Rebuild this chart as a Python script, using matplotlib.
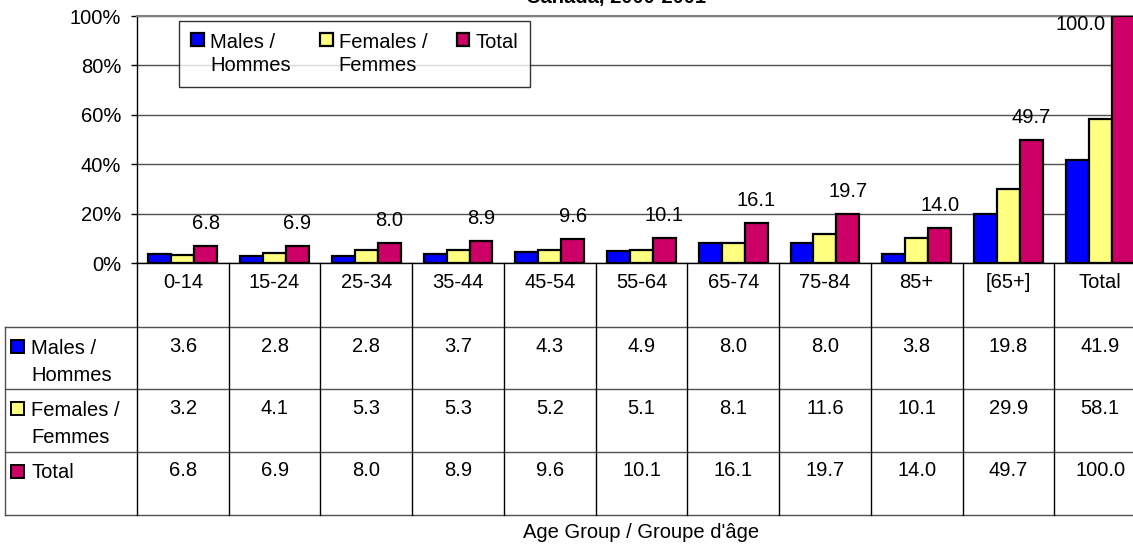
import matplotlib
matplotlib.use('Agg')
import matplotlib.pyplot as plt
import matplotlib.patches as mpatches
from matplotlib.lines import Line2D
from matplotlib.ticker import PercentFormatter
from matplotlib.transforms import blended_transform_factory

categories = ['0-14', '15-24', '25-34', '35-44', '45-54', '55-64', '65-74',
              '75-84', '85+', '[65+]', 'Total']
males = [3.6, 2.8, 2.8, 3.7, 4.3, 4.9, 8.0, 8.0, 3.8, 19.8, 41.9]
females = [3.2, 4.1, 5.3, 5.3, 5.2, 5.1, 8.1, 11.6, 10.1, 29.9, 58.1]
total = [6.8, 6.9, 8.0, 8.9, 9.6, 10.1, 16.1, 19.7, 14.0, 49.7, 100.0]
series_names = ['Males /\nHommes', 'Females /\nFemmes', 'Total']
colors = ['#0000FF', '#FFFF80', '#CC0066']

W, H = 1133, 546


def fx(px):
    return px / W


def fy(px):
    return 1 - px / H


def main():
    plt.rcParams['font.family'] = ['Liberation Sans', 'DejaVu Sans']
    fs = 14.5

    fig = plt.figure(figsize=(W / 100, H / 100), dpi=100)
    ax = fig.add_axes([fx(137), fy(263), fx(1009), 247 / H])

    xs = list(range(len(categories)))
    w = 0.25
    data = [males, females, total]
    for k, vals in enumerate(data):
        ax.bar([x + (k - 1) * w for x in xs], vals, width=w, color=colors[k],
               edgecolor='black', linewidth=1.6, label=series_names[k], zorder=3)

    # labels on the total bars
    for x, v in zip(xs, total):
        if v >= 95:
            ax.annotate(f'{v:.1f}', (x + w / 2, v), xytext=(-4, -6),
                        textcoords='offset points', ha='right', va='center',
                        fontsize=fs, annotation_clip=False)
        else:
            ax.annotate(f'{v:.1f}', (x + w, v), xytext=(0, 16.5),
                        textcoords='offset points', ha='center', va='center',
                        fontsize=fs)

    ax.set_xlim(-0.5, len(categories) - 0.5)
    ax.set_ylim(0, 100)
    ax.set_yticks([0, 20, 40, 60, 80, 100])
    ax.yaxis.set_major_formatter(PercentFormatter(xmax=100, decimals=0))
    ax.set_xticks([])
    ax.tick_params(axis='y', labelsize=fs, length=4.3, width=1, pad=7)
    ax.yaxis.grid(True, color='#505050', linewidth=1, zorder=0)
    ax.spines['right'].set_visible(False)
    ax.spines['top'].set_color('#808080')
    ax.spines['top'].set_linewidth(1.5)
    for s in ['left', 'bottom']:
        ax.spines[s].set_color('black')
        ax.spines[s].set_linewidth(1)

    leg = ax.legend(loc='upper left', bbox_to_anchor=(fx(179), fy(21)),
                    bbox_transform=fig.transFigure, ncol=3, fontsize=fs,
                    frameon=True, fancybox=False, borderpad=0.6,
                    handlelength=0.64, handleheight=0.64, handletextpad=0.3,
                    columnspacing=1.45, borderaxespad=0)
    leg.get_frame().set_edgecolor('black')
    leg.get_frame().set_linewidth(1)
    leg._legend_handle_box.align = 'top'
    for col in leg._legend_handle_box.get_children():
        col.align = 'left'
        for row in col.get_children():
            row.align = 'top'
    for t in leg.get_texts():
        t.set_linespacing(1.25)

    # data table under the chart
    tr = blended_transform_factory(ax.transData, fig.transFigure)
    row_lines = [327, 389, 452, 515]
    for yl in row_lines:
        fig.add_artist(Line2D([fx(5), 1], [fy(yl), fy(yl)], color='#505050',
                              linewidth=1, transform=fig.transFigure))
    fig.add_artist(Line2D([fx(5), fx(5)], [fy(327), fy(515)], color='#505050',
                          linewidth=1, transform=fig.transFigure))
    for k in range(len(categories) + 1):
        xb = k - 0.5
        fig.add_artist(Line2D([xb, xb], [fy(263), fy(515)], color='black',
                              linewidth=1, transform=tr))

    for x, c in zip(xs, categories):
        fig.text(x, fy(282), c, transform=tr, ha='center', va='center', fontsize=fs)

    row_tops = [327, 389, 452]
    for r, vals in enumerate(data):
        yc = row_tops[r] + 19
        for x, v in zip(xs, vals):
            fig.text(x, fy(yc), f'{v:.1f}', transform=tr, ha='center',
                     va='center', fontsize=fs)
        fig.add_artist(mpatches.Rectangle((fx(11), fy(yc + 6.5)), fx(13), 13 / H,
                                          facecolor=colors[r], edgecolor='black',
                                          linewidth=1.4, transform=fig.transFigure))
        fig.text(fx(31), fy(yc - 7.5), series_names[r], ha='left', va='top',
                 fontsize=fs, linespacing=1.55)

    fig.text(fx(641), fy(533), "Age Group / Groupe d'âge", ha='center',
             va='center', fontsize=fs)
    # title sits mostly above the top edge, as in the source image
    fig.text(fx(616), fy(2.5), 'Canada, 2000-2001', ha='center', va='baseline',
             fontsize=fs, fontweight='bold')

    fig.savefig('out.png', dpi=100)


if __name__ == '__main__':
    main()
